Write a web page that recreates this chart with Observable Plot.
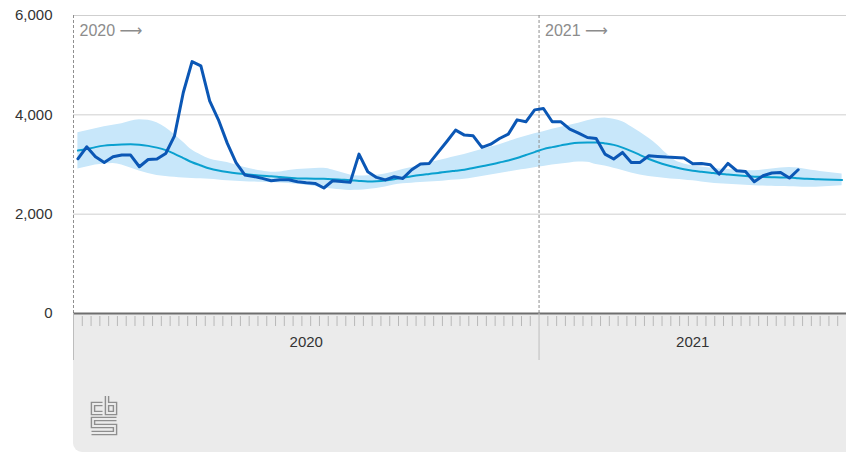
<!DOCTYPE html>
<html>
<head>
<meta charset="utf-8">
<script src="https://cdn.jsdelivr.net/npm/d3@7"></script>
<script src="https://cdn.jsdelivr.net/npm/@observablehq/plot@0.6"></script>
<style>
  html, body { margin: 0; padding: 0; background: #fff; }
  #wrap { position: relative; width: 846px; height: 453px; overflow: hidden; font-family: "Liberation Sans", Arial, sans-serif; }
  #panel { position: absolute; left: 73px; top: 314px; width: 773px; height: 138px; background: #ebebeb; border-radius: 0 0 0 9px; }
  #logo { position: absolute; left: 88px; top: 393px; }
  #chart { position: absolute; left: 0; top: 0; }
</style>
</head>
<body>
<div id="wrap">
  <div id="panel"></div>
  <svg id="logo" width="32" height="46" viewBox="0 0 32 46">
    <g fill="none" stroke-linejoin="miter" stroke-linecap="butt">
      <g stroke="#8e8e8e" stroke-width="4.6">
        <polyline points="14.5,11 5,11 5,20 14.5,20"/>
        <polyline points="19,3 19,20 27,20 27,11 19,11"/>
        <polyline points="28.5,26 5,26 5,33 27,33 27,40 3.5,40"/>
      </g>
      <g stroke="#ebebeb" stroke-width="1.8">
        <polyline points="15.5,11 5,11 5,20 15.5,20"/>
        <polyline points="19,1.5 19,20 27,20 27,11 19,11"/>
        <polyline points="29.5,26 5,26 5,33 27,33 27,40 2.5,40"/>
      </g>
    </g>
  </svg>
  <div id="chart"></div>
</div>
<script>
// ---- data (weekly deaths) ----
const yearLabels = ["2020", "2021"];
const weeksPerYear = [53, 35];
const yTicks = [0, 2000, 4000, 6000];

const observed2020 = [3115, 3357, 3156, 3041, 3156, 3190, 3190, 2955, 3100, 3110,
  3222, 3578, 4450, 5072, 4985, 4280, 3900, 3430, 3040, 2790,
  2760, 2720, 2673, 2693, 2693, 2653, 2633, 2619, 2527, 2673,
  2660, 2640, 3210, 2854, 2740, 2690, 2754, 2720, 2894, 3009,
  3022, 3243, 3464, 3692, 3592, 3578, 3343, 3410, 3524, 3612,
  3899, 3860, 4100];
const observed2021 = [4127, 3860, 3860, 3712, 3632, 3544, 3524, 3210, 3110, 3243,
  3042, 3042, 3176, 3162, 3150, 3142, 3129, 3015, 3022, 2995,
  2808, 3022, 2874, 2860, 2653, 2774, 2828, 2841, 2727, 2894];

const expected = [3280, 3310, 3350, 3380, 3395, 3405, 3410, 3400, 3375, 3340,
  3290, 3215, 3130, 3045, 2980, 2920, 2880, 2850, 2825, 2808,
  2790, 2775, 2765, 2750, 2735, 2720, 2718, 2715, 2712, 2705,
  2695, 2685, 2670, 2660, 2665, 2680, 2705, 2735, 2765, 2790,
  2810, 2830, 2855, 2875, 2895, 2930, 2965, 3000, 3040, 3080,
  3130, 3190, 3250,
  3310, 3350, 3385, 3420, 3440, 3445, 3445, 3425, 3395, 3340,
  3270, 3190, 3110, 3045, 2990, 2945, 2905, 2875, 2855, 2835,
  2815, 2800, 2785, 2770, 2755, 2750, 2745, 2740, 2738, 2725,
  2712, 2705, 2698, 2692, 2687];
const upper = [3640, 3680, 3720, 3760, 3790, 3820, 3870, 3900, 3890, 3840,
  3740, 3600, 3450, 3290, 3190, 3110, 3070, 3040, 2990, 2940,
  2900, 2870, 2845, 2850, 2880, 2900, 2910, 2920, 2925, 2890,
  2840, 2790, 2770, 2775, 2785, 2810, 2850, 2900, 2940, 2985,
  3030, 3075, 3115, 3160, 3200, 3250, 3300, 3350, 3400, 3460,
  3520, 3570, 3620,
  3660, 3710, 3750, 3790, 3830, 3880, 3920, 3935, 3910, 3860,
  3760, 3650, 3530, 3390, 3220, 3080, 3010, 2975, 2950, 2930,
  2910, 2900, 2890, 2880, 2875, 2890, 2910, 2930, 2940, 2930,
  2900, 2875, 2850, 2830, 2810];
const lower = [2910, 2950, 2990, 3010, 3020, 2990, 2930, 2870, 2820, 2780,
  2760, 2745, 2730, 2720, 2712, 2705, 2690, 2675, 2665, 2655,
  2648, 2642, 2636, 2628, 2618, 2600, 2580, 2555, 2530, 2505,
  2490, 2478, 2480, 2495, 2515, 2545, 2585, 2610, 2625, 2640,
  2650, 2660, 2675, 2690, 2705, 2730, 2760, 2790, 2820, 2850,
  2880, 2905, 2935,
  2960, 2990, 3010, 3030, 3050, 3045, 3000, 2970, 2925, 2880,
  2830, 2790, 2760, 2740, 2720, 2705, 2690, 2673, 2650, 2630,
  2610, 2600, 2590, 2580, 2573, 2565, 2560, 2555, 2553, 2548,
  2542, 2540, 2550, 2560, 2573];

// ---- derived tables ----
const nWeeks = weeksPerYear[0] + weeksPerYear[1];
const observed = observed2020.concat(observed2021);
const rows = expected.map((e, i) => ({i, exp: e, lo: lower[i], hi: upper[i], obs: observed[i]}));
const obsRows = rows.filter(d => d.obs != null);
const yearStarts = [-0.5, weeksPerYear[0] - 0.5];
const yearCenters = [(weeksPerYear[0] - 1) / 2, weeksPerYear[0] + (weeksPerYear[1] - 1) / 2];
const weekBoundaries = d3.range(0.5, nWeeks - 0.5, 1).filter(b => !yearStarts.includes(b));
const yearMarks = yearStarts.map((s, k) => ({x: s, label: yearLabels[k], arrow: "\u27F6"}));

const font = "'Liberation Sans', Arial, Helvetica, sans-serif";

const chart = Plot.plot({
  width: 846,
  height: 453,
  marginTop: 15,
  marginBottom: 140,
  marginLeft: 73,
  marginRight: 0,
  style: {fontFamily: font, fontSize: "15px", background: "transparent", overflow: "visible"},
  x: {type: "linear", domain: [-0.5, nWeeks - 0.5], axis: null},
  y: {domain: [0, 6000], axis: null},
  marks: [
    Plot.gridY(yTicks.filter(t => t > 0), {stroke: "#cfcfcf", strokeOpacity: 1, strokeWidth: 1}),
    Plot.areaY(rows, {x: "i", y1: "lo", y2: "hi", fill: "#c8e7fa", curve: "monotone-x"}),
    Plot.ruleX(yearStarts, {stroke: "#8f8f8f", strokeWidth: 1, strokeDasharray: "3,2"}),
    Plot.line(rows, {x: "i", y: "exp", stroke: "#0aa0cf", strokeWidth: 2, curve: "monotone-x"}),
    Plot.line(obsRows, {x: "i", y: "obs", stroke: "#0b57b5", strokeWidth: 3, strokeLinejoin: "round"}),
    Plot.text(yearMarks, {x: "x", text: "label", frameAnchor: "top", lineAnchor: "middle", dx: 6, dy: 15,
      textAnchor: "start", fill: "#8c8c8c", fontSize: 16}),
    Plot.text(yearMarks, {x: "x", text: "arrow", frameAnchor: "top", lineAnchor: "middle", dx: 46, dy: 15,
      textAnchor: "start", fill: "#8c8c8c", fontSize: 16, fontFamily: "'DejaVu Sans', sans-serif"}),
    Plot.axisY(yTicks, {tickSize: 0, tickPadding: 21, tickFormat: d3.format(","), fill: "#333", fontSize: 15, label: null}),
    Plot.ruleY([0], {stroke: "#6e6e6e", strokeWidth: 2}),
    Plot.axisX(weekBoundaries, {tickSize: 10, dy: 3, tickFormat: () => "", stroke: "#b8b8b8", label: null}),
    Plot.axisX(yearStarts, {tickSize: 47, tickFormat: () => "", stroke: "#bdbdbd", label: null}),
    Plot.axisX(yearCenters, {tickSize: 0, tickPadding: 23, tickFormat: (d, k) => yearLabels[k], fill: "#333", fontSize: 15, label: null})
  ]
});
document.getElementById("chart").appendChild(chart);
</script>
</body>
</html>
